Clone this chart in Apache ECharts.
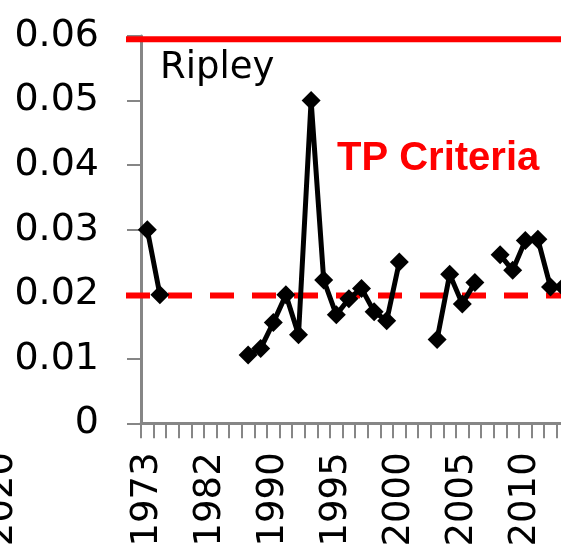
<!DOCTYPE html>
<html>
<head>
<meta charset="utf-8">
<script src="https://cdn.jsdelivr.net/npm/echarts@6/dist/echarts.min.js"></script>
<style>
html,body{margin:0;padding:0;background:#fff;overflow:hidden;width:561px;height:550px;}
#c{width:640px;height:550px;}
</style>
</head>
<body>
<div id="c"></div>
<script>
// Categories (years with records); labels shown every 5th category
const years = ['1973','1975','1977','1979','1980','1982','1984','1986','1988','1989',
  '1990','1991','1992','1993','1994','1995','1996','1997','1998','1999',
  '2000','2001','2002','2003','2004','2005','2006','2007','2008','2009',
  '2010','2011','2012','2013','2014','2015'];
// Ripley series values (null = no record)
const ripley = [0.030, 0.0199, null, null, null, null, null, null, 0.0106, 0.0116,
  0.0156, 0.0199, 0.0137, 0.050, 0.0222, 0.0168, 0.0193, 0.0209, 0.0173, 0.0159,
  0.0250, null, null, 0.0130, 0.0231, 0.0185, 0.0218, null, 0.0261, 0.0237,
  0.0283, 0.0285, 0.0211, 0.0211, null, null];
// Reference lines
const upperLine = 0.0595;
const tpCriteria = 0.0198;
const yTicks = [0, 0.01, 0.02, 0.03, 0.04, 0.05, 0.06];
const prevPanelLabel = '2020';

const axisGray = '#868686';
const font = 'DejaVu Sans';

const chart = echarts.init(document.getElementById('c'), null, {renderer: 'canvas'});
// container is 640px wide; plot runs past the visible 561px window like the cropped original
const gridTop = 36, gridBottom = 126.7, gridRight = 640 - 141 - 453.6;
chart.setOption({
  animation: false,
  backgroundColor: '#fff',
  grid: [
    {left: 141, right: gridRight, top: gridTop, bottom: gridBottom, containLabel: false},
    {left: 126, right: gridRight, top: gridTop, bottom: gridBottom, containLabel: false}
  ],
  xAxis: [
    {
      type: 'category', gridIndex: 0, data: years, boundaryGap: true,
      axisLine: {lineStyle: {color: axisGray, width: 3}},
      axisTick: {show: true, length: 15, interval: 0, lineStyle: {color: axisGray, width: 2}},
      axisLabel: {
        rotate: 90, interval: 4, margin: 29, color: '#000',
        fontFamily: font, fontSize: 37, padding: [6, 0, 0, 0]
      },
      splitLine: {show: false}
    },
    {type: 'value', gridIndex: 1, min: 0, max: 1, show: false}
  ],
  yAxis: [
    {
      type: 'value', gridIndex: 0, min: yTicks[0], max: yTicks[yTicks.length - 1], interval: 0.01,
      axisLine: {show: true, lineStyle: {color: axisGray, width: 3}},
      axisTick: {show: true, length: 14, lineStyle: {color: axisGray, width: 2}},
      axisLabel: {
        margin: 42, color: '#000', fontFamily: font, fontSize: 38,
        formatter: v => (Math.round(v * 100) / 100).toString()
      },
      splitLine: {show: false}
    },
    {type: 'value', gridIndex: 1, min: yTicks[0], max: yTicks[yTicks.length - 1], show: false}
  ],
  series: [
    {
      type: 'line', xAxisIndex: 1, yAxisIndex: 1, z: 3,
      data: [[0, upperLine], [1, upperLine]], symbol: 'none', silent: true,
      lineStyle: {color: '#ff0000', width: 6, type: 'solid', cap: 'butt'}
    },
    {
      type: 'line', xAxisIndex: 1, yAxisIndex: 1, z: 3,
      data: [[0, tpCriteria], [1, tpCriteria]], symbol: 'none', silent: true,
      lineStyle: {color: '#ff0000', width: 6, type: [24, 18], cap: 'butt'}
    },
    {
      type: 'line', xAxisIndex: 0, yAxisIndex: 0, z: 5,
      data: ripley, connectNulls: false,
      symbol: 'diamond', symbolSize: 19, showAllSymbol: true,
      itemStyle: {color: '#000'},
      lineStyle: {color: '#000', width: 5}
    }
  ],
  graphic: [
    {type: 'text', x: 160, y: 68, z: 10, style: {text: 'Ripley', font: '37px "DejaVu Sans"', fill: '#000', verticalAlign: 'middle', align: 'left'}},
    {type: 'text', x: 337, y: 158.5, z: 10, style: {text: 'TP Criteria', font: 'bold 40px "Liberation Sans"', fill: '#ff0000', verticalAlign: 'middle', align: 'left'}},
    {type: 'text', x: 2, y: 452, rotation: Math.PI / 2, z: 10, style: {text: prevPanelLabel, font: '37px "DejaVu Sans"', fill: '#000', verticalAlign: 'middle', align: 'right'}}
  ]
});
</script>
</body>
</html>
